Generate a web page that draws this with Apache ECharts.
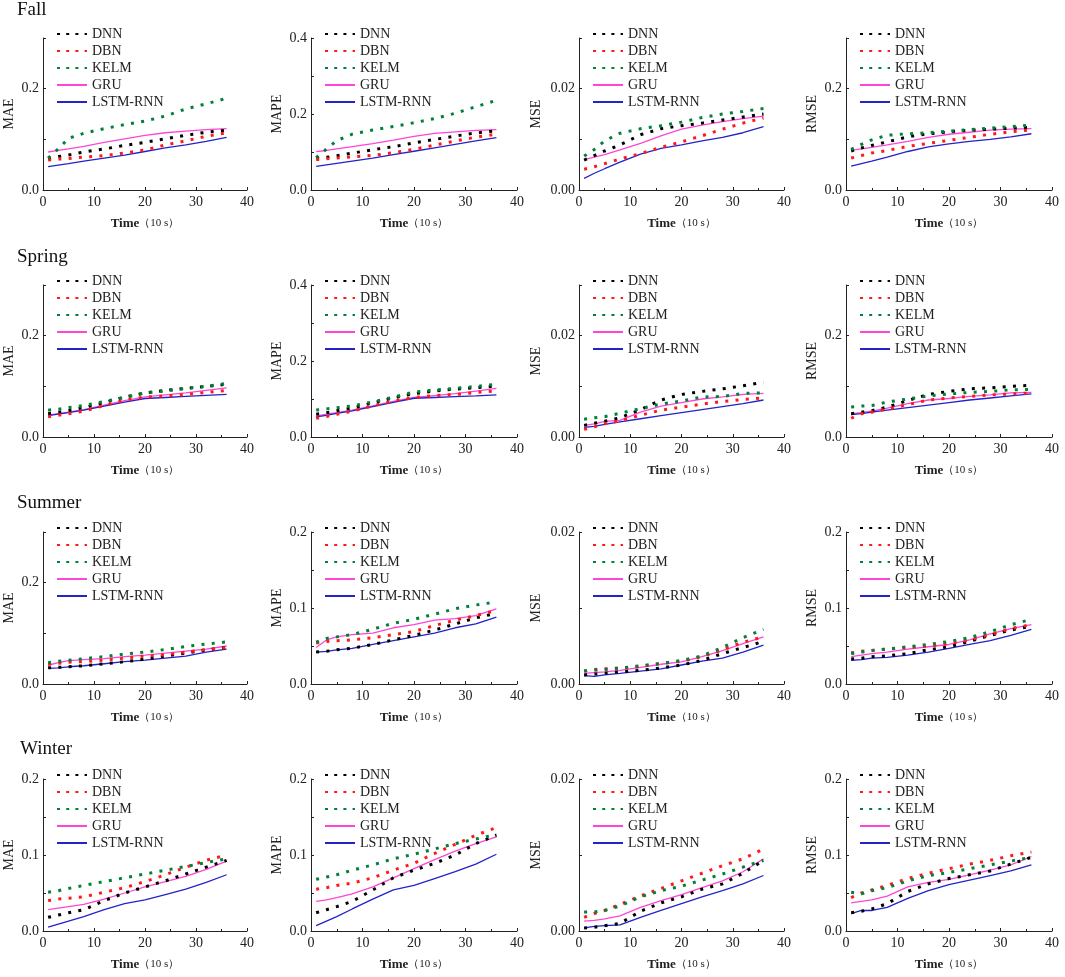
<!DOCTYPE html>
<html>
<head>
<meta charset="utf-8">
<script src="https://cdn.jsdelivr.net/npm/echarts@6/dist/echarts.min.js"></script>
<style>
  html, body { margin: 0; padding: 0; background: #fff; }
  #main { width: 1065px; height: 977px; }
</style>
</head>
<body>
<div id="main"></div>
<script>
const X = [1, 3, 5, 8, 12, 16, 20, 24, 28, 32, 36];
const models = ['DNN', 'DBN', 'KELM', 'GRU', 'LSTM-RNN'];
const seasons = ['Fall', 'Spring', 'Summer', 'Winter'];
const metrics = ['MAE', 'MAPE', 'MSE', 'RMSE'];

// each panel: [DNN, DBN, KELM, GRU, LSTM-RNN]
const fallMAE = [
  [0.062, 0.066, 0.069, 0.075, 0.081, 0.088, 0.094, 0.101, 0.108, 0.114, 0.118],
  [0.059, 0.061, 0.062, 0.065, 0.068, 0.073, 0.079, 0.089, 0.097, 0.106, 0.113],
  [0.063, 0.081, 0.102, 0.112, 0.121, 0.129, 0.136, 0.146, 0.160, 0.170, 0.181],
  [0.075, 0.078, 0.081, 0.086, 0.094, 0.101, 0.108, 0.113, 0.116, 0.119, 0.121],
  [0.046, 0.049, 0.052, 0.057, 0.063, 0.069, 0.076, 0.083, 0.089, 0.096, 0.104]
];
const fallMAPE = [
  [0.084, 0.086, 0.090, 0.097, 0.106, 0.114, 0.124, 0.133, 0.142, 0.150, 0.156],
  [0.080, 0.082, 0.084, 0.087, 0.091, 0.098, 0.107, 0.118, 0.129, 0.139, 0.147],
  [0.085, 0.108, 0.130, 0.147, 0.158, 0.167, 0.177, 0.188, 0.202, 0.219, 0.236],
  [0.101, 0.104, 0.108, 0.114, 0.122, 0.131, 0.141, 0.149, 0.153, 0.157, 0.159],
  [0.062, 0.066, 0.070, 0.076, 0.084, 0.093, 0.102, 0.111, 0.120, 0.129, 0.138]
];
const fallMSE = [
  [0.0059, 0.0068, 0.0077, 0.0089, 0.0109, 0.0121, 0.0127, 0.0132, 0.0138, 0.0144, 0.0150],
  [0.0041, 0.0046, 0.0052, 0.0061, 0.0072, 0.0084, 0.0095, 0.0107, 0.0120, 0.0132, 0.0142],
  [0.0067, 0.0080, 0.0097, 0.0112, 0.0121, 0.0127, 0.0134, 0.0143, 0.0150, 0.0155, 0.0161],
  [0.0060, 0.0065, 0.0070, 0.0079, 0.0092, 0.0107, 0.0120, 0.0128, 0.0135, 0.0141, 0.0146],
  [0.0023, 0.0033, 0.0042, 0.0055, 0.0071, 0.0082, 0.0089, 0.0097, 0.0104, 0.0113, 0.0125]
];
const fallRMSE = [
  [0.077, 0.083, 0.088, 0.095, 0.105, 0.111, 0.115, 0.118, 0.120, 0.122, 0.124],
  [0.063, 0.068, 0.073, 0.078, 0.086, 0.092, 0.098, 0.104, 0.110, 0.115, 0.119],
  [0.080, 0.090, 0.099, 0.108, 0.111, 0.113, 0.116, 0.119, 0.122, 0.125, 0.128],
  [0.078, 0.081, 0.084, 0.089, 0.096, 0.104, 0.110, 0.114, 0.118, 0.120, 0.121],
  [0.047, 0.052, 0.057, 0.065, 0.076, 0.085, 0.091, 0.096, 0.100, 0.105, 0.111]
];
const springMAE = [
  [0.046, 0.049, 0.052, 0.058, 0.068, 0.079, 0.087, 0.092, 0.096, 0.100, 0.104],
  [0.040, 0.043, 0.046, 0.051, 0.062, 0.073, 0.079, 0.081, 0.084, 0.088, 0.092],
  [0.053, 0.055, 0.058, 0.062, 0.070, 0.078, 0.087, 0.091, 0.096, 0.100, 0.106],
  [0.043, 0.046, 0.049, 0.054, 0.063, 0.072, 0.079, 0.083, 0.087, 0.092, 0.097],
  [0.042, 0.045, 0.048, 0.053, 0.061, 0.069, 0.076, 0.078, 0.080, 0.082, 0.084]
];
const springMAPE = [
  [0.060, 0.064, 0.069, 0.076, 0.090, 0.103, 0.114, 0.121, 0.126, 0.130, 0.134],
  [0.049, 0.054, 0.060, 0.068, 0.082, 0.095, 0.104, 0.109, 0.112, 0.117, 0.121],
  [0.071, 0.074, 0.077, 0.082, 0.092, 0.105, 0.118, 0.124, 0.128, 0.133, 0.139],
  [0.055, 0.060, 0.064, 0.071, 0.082, 0.094, 0.104, 0.109, 0.114, 0.121, 0.128],
  [0.053, 0.057, 0.062, 0.069, 0.080, 0.091, 0.102, 0.104, 0.106, 0.108, 0.111]
];
const springMSE = [
  [0.0023, 0.0027, 0.0031, 0.0038, 0.0054, 0.0073, 0.0084, 0.0090, 0.0095, 0.0101, 0.0108],
  [0.0015, 0.0020, 0.0026, 0.0032, 0.0043, 0.0053, 0.0059, 0.0065, 0.0070, 0.0074, 0.0077],
  [0.0035, 0.0038, 0.0040, 0.0047, 0.0056, 0.0065, 0.0071, 0.0079, 0.0080, 0.0086, 0.0087],
  [0.0023, 0.0026, 0.0031, 0.0033, 0.0049, 0.0061, 0.0068, 0.0075, 0.0079, 0.0084, 0.0086],
  [0.0019, 0.0021, 0.0025, 0.0030, 0.0036, 0.0042, 0.0048, 0.0054, 0.0060, 0.0066, 0.0073]
];
const springRMSE = [
  [0.046, 0.049, 0.052, 0.059, 0.072, 0.084, 0.090, 0.095, 0.097, 0.100, 0.102],
  [0.037, 0.046, 0.049, 0.055, 0.064, 0.073, 0.077, 0.080, 0.083, 0.085, 0.087],
  [0.059, 0.061, 0.062, 0.069, 0.075, 0.081, 0.085, 0.088, 0.090, 0.093, 0.094],
  [0.046, 0.048, 0.051, 0.057, 0.066, 0.073, 0.076, 0.080, 0.083, 0.087, 0.088],
  [0.044, 0.046, 0.049, 0.053, 0.058, 0.063, 0.068, 0.073, 0.077, 0.081, 0.085]
];
const summerMAE = [
  [0.032, 0.033, 0.034, 0.036, 0.040, 0.044, 0.049, 0.055, 0.061, 0.067, 0.072],
  [0.039, 0.041, 0.043, 0.044, 0.047, 0.051, 0.055, 0.058, 0.063, 0.068, 0.072],
  [0.042, 0.045, 0.047, 0.050, 0.054, 0.059, 0.063, 0.068, 0.074, 0.079, 0.083],
  [0.037, 0.042, 0.046, 0.048, 0.050, 0.054, 0.057, 0.061, 0.065, 0.069, 0.075],
  [0.031, 0.032, 0.034, 0.036, 0.040, 0.044, 0.047, 0.051, 0.055, 0.063, 0.069]
];
const summerMAPE = [
  [0.042, 0.043, 0.045, 0.047, 0.052, 0.058, 0.064, 0.071, 0.079, 0.087, 0.093],
  [0.054, 0.056, 0.057, 0.058, 0.061, 0.065, 0.069, 0.077, 0.084, 0.090, 0.097],
  [0.055, 0.060, 0.062, 0.065, 0.072, 0.080, 0.085, 0.092, 0.099, 0.104, 0.108],
  [0.048, 0.058, 0.062, 0.065, 0.067, 0.074, 0.078, 0.084, 0.086, 0.090, 0.099],
  [0.042, 0.043, 0.045, 0.047, 0.052, 0.057, 0.062, 0.067, 0.074, 0.079, 0.088]
];
const summerMSE = [
  [0.0012, 0.0013, 0.0014, 0.0016, 0.0018, 0.0021, 0.0025, 0.0031, 0.0040, 0.0048, 0.0056],
  [0.0017, 0.0019, 0.0020, 0.0021, 0.0023, 0.0027, 0.0030, 0.0036, 0.0045, 0.0055, 0.0062],
  [0.0017, 0.0018, 0.0019, 0.0021, 0.0024, 0.0027, 0.0031, 0.0037, 0.0048, 0.0061, 0.0072],
  [0.0014, 0.0015, 0.0016, 0.0018, 0.0022, 0.0026, 0.0029, 0.0036, 0.0044, 0.0053, 0.0062],
  [0.0011, 0.0010, 0.0012, 0.0014, 0.0017, 0.0020, 0.0025, 0.0030, 0.0034, 0.0042, 0.0051]
];
const summerRMSE = [
  [0.033, 0.034, 0.036, 0.037, 0.040, 0.045, 0.049, 0.056, 0.064, 0.071, 0.076],
  [0.041, 0.043, 0.044, 0.046, 0.048, 0.050, 0.053, 0.058, 0.065, 0.073, 0.078],
  [0.040, 0.042, 0.044, 0.046, 0.049, 0.052, 0.056, 0.061, 0.069, 0.078, 0.085],
  [0.036, 0.038, 0.040, 0.042, 0.046, 0.049, 0.052, 0.058, 0.066, 0.073, 0.078],
  [0.031, 0.032, 0.034, 0.035, 0.038, 0.042, 0.047, 0.052, 0.057, 0.064, 0.072]
];
const winterMAE = [
  [0.018, 0.021, 0.024, 0.028, 0.040, 0.050, 0.058, 0.066, 0.075, 0.084, 0.093],
  [0.040, 0.042, 0.043, 0.045, 0.051, 0.057, 0.065, 0.074, 0.084, 0.093, 0.100],
  [0.051, 0.053, 0.056, 0.060, 0.065, 0.070, 0.075, 0.080, 0.085, 0.090, 0.095],
  [0.028, 0.030, 0.032, 0.035, 0.042, 0.050, 0.058, 0.065, 0.072, 0.081, 0.092],
  [0.005, 0.009, 0.013, 0.019, 0.028, 0.036, 0.041, 0.048, 0.055, 0.064, 0.074]
];
const winterMAPE = [
  [0.024, 0.028, 0.032, 0.039, 0.054, 0.070, 0.080, 0.089, 0.100, 0.115, 0.126],
  [0.055, 0.057, 0.060, 0.063, 0.070, 0.080, 0.089, 0.102, 0.114, 0.126, 0.136],
  [0.068, 0.071, 0.074, 0.080, 0.087, 0.095, 0.101, 0.108, 0.115, 0.121, 0.127],
  [0.039, 0.041, 0.044, 0.049, 0.058, 0.070, 0.082, 0.094, 0.105, 0.115, 0.124],
  [0.007, 0.013, 0.019, 0.029, 0.042, 0.054, 0.060, 0.069, 0.078, 0.088, 0.101]
];
const winterMSE = [
  [0.0004, 0.0005, 0.0007, 0.0010, 0.0026, 0.0037, 0.0045, 0.0055, 0.0062, 0.0076, 0.0093],
  [0.0018, 0.0023, 0.0027, 0.0035, 0.0046, 0.0056, 0.0066, 0.0076, 0.0086, 0.0095, 0.0108],
  [0.0025, 0.0025, 0.0027, 0.0033, 0.0045, 0.0053, 0.0059, 0.0067, 0.0075, 0.0084, 0.0093],
  [0.0013, 0.0014, 0.0016, 0.0020, 0.0031, 0.0040, 0.0048, 0.0057, 0.0066, 0.0078, 0.0095],
  [0.0004, 0.0006, 0.0007, 0.0008, 0.0018, 0.0027, 0.0036, 0.0045, 0.0053, 0.0062, 0.0073]
];
const winterRMSE = [
  [0.024, 0.026, 0.029, 0.036, 0.052, 0.062, 0.069, 0.074, 0.079, 0.088, 0.097],
  [0.044, 0.050, 0.054, 0.060, 0.069, 0.076, 0.082, 0.088, 0.093, 0.099, 0.104],
  [0.051, 0.049, 0.053, 0.057, 0.066, 0.073, 0.077, 0.082, 0.087, 0.092, 0.097],
  [0.037, 0.039, 0.041, 0.046, 0.058, 0.064, 0.068, 0.074, 0.080, 0.087, 0.098],
  [0.023, 0.027, 0.027, 0.031, 0.043, 0.053, 0.061, 0.067, 0.073, 0.079, 0.087]
];

const panels = [
  [fallMAE, fallMAPE, fallMSE, fallRMSE],
  [springMAE, springMAPE, springMSE, springRMSE],
  [summerMAE, summerMAPE, summerMSE, summerRMSE],
  [winterMAE, winterMAPE, winterMSE, winterRMSE]
];

// y axis: [max, tick interval, label step, decimals] per row/column
const yAxes = [
  [[0.3, 0.1, 0.2, 1], [0.4, 0.1, 0.2, 1], [0.03, 0.01, 0.02, 2], [0.3, 0.1, 0.2, 1]],
  [[0.3, 0.1, 0.2, 1], [0.4, 0.1, 0.2, 1], [0.03, 0.01, 0.02, 2], [0.3, 0.1, 0.2, 1]],
  [[0.3, 0.1, 0.2, 1], [0.2, 0.05, 0.1, 1], [0.02, 0.01, 0.02, 2], [0.2, 0.05, 0.1, 1]],
  [[0.2, 0.05, 0.1, 1], [0.2, 0.05, 0.1, 1], [0.02, 0.01, 0.02, 2], [0.2, 0.05, 0.1, 1]]
];

const colLeft = [43, 311, 579, 846];
const colWidth = [204, 206, 205, 206];
const rowTop = [38, 285, 532, 779];
const rowHeight = 152;
const titleTop = [1, 248, 494, 740];
const titleLeft = [17, 17, 17, 20];

const serif = '"Liberation Serif", "Times New Roman", serif';
const colors = ['#000000', '#ff1a1a', '#00803a', '#ff44d6', '#2323c8'];
const dotted = [true, true, true, false, false];

const grid = [], xAxis = [], yAxis = [], legend = [], series = [], title = [];

// legend entries: dotted ones get a tighter dot pitch so four dots fit
const legendData = models.map((name, k) =>
  dotted[k] ? { name, lineStyle: { type: [3, 6.2] } } : { name });

seasons.forEach((s, r) => {
  title.push({
    text: s, left: titleLeft[r], top: titleTop[r], padding: 0,
    textStyle: { fontFamily: serif, fontSize: 19, fontWeight: 'normal', color: '#111' }
  });
  metrics.forEach((m, c) => {
    const i = r * 4 + c;
    const [ymax, yint, ystep, dec] = yAxes[r][c];
    grid.push({ left: colLeft[c], top: rowTop[r], width: colWidth[c], height: rowHeight });
    xAxis.push({
      gridIndex: i, type: 'value', min: 0, max: 40, interval: 10,
      name: '{a|Time}{b|（10 s）}', nameLocation: 'middle', nameGap: 27,
      nameTextStyle: {
        rich: {
          a: { fontFamily: serif, fontSize: 13, fontWeight: 'bold', color: '#222' },
          b: { fontFamily: serif, fontSize: 11, color: '#222' }
        }
      },
      axisLine: { lineStyle: { color: '#222', width: 1 } },
      axisTick: { inside: true, length: 3, lineStyle: { color: '#222' } },
      minorTick: { show: true, splitNumber: 2, length: 2, lineStyle: { color: '#222' } },
      axisLabel: { fontFamily: serif, fontSize: 14, color: '#222', margin: 5 },
      splitLine: { show: false }
    });
    yAxis.push({
      gridIndex: i, type: 'value', min: 0, max: ymax, interval: yint,
      name: m, nameLocation: 'middle', nameGap: dec === 2 ? 36 : 27,
      nameTextStyle: { fontFamily: serif, fontSize: 14, color: '#222' },
      axisLine: { show: true, lineStyle: { color: '#222', width: 1 } },
      axisTick: { inside: true, length: 3, lineStyle: { color: '#222' } },
      axisLabel: {
        fontFamily: serif, fontSize: 14, color: '#222', margin: 4,
        formatter: v => {
          const k = v / ystep;
          return Math.abs(k - Math.round(k)) < 1e-6 ? v.toFixed(dec) : '';
        }
      },
      splitLine: { show: false }
    });
    legend.push({
      data: legendData, orient: 'vertical', left: colLeft[c] + 13, top: rowTop[r] - 11,
      itemWidth: 30, itemHeight: 8, itemGap: 3, padding: 0,
      itemStyle: { opacity: 0 },
      textStyle: { fontFamily: serif, fontSize: 14, color: '#222', lineHeight: 14 }
    });
    const data = panels[r][c];
    models.forEach((name, k) => {
      series.push({
        type: 'line', name, xAxisIndex: i, yAxisIndex: i,
        data: X.map((x, j) => [x, data[k][j]]),
        symbol: 'none', color: colors[k],
        lineStyle: dotted[k]
          ? { color: colors[k], width: 3, type: [3, 7.3], cap: 'butt' }
          : { color: colors[k], width: 1.3 },
        z: dotted[k] ? 3 : 2
      });
    });
  });
});

const chart = echarts.init(document.getElementById('main'));
chart.setOption({
  backgroundColor: '#fff',
  animation: false,
  title, grid, xAxis, yAxis, legend, series
});
</script>
</body>
</html>
